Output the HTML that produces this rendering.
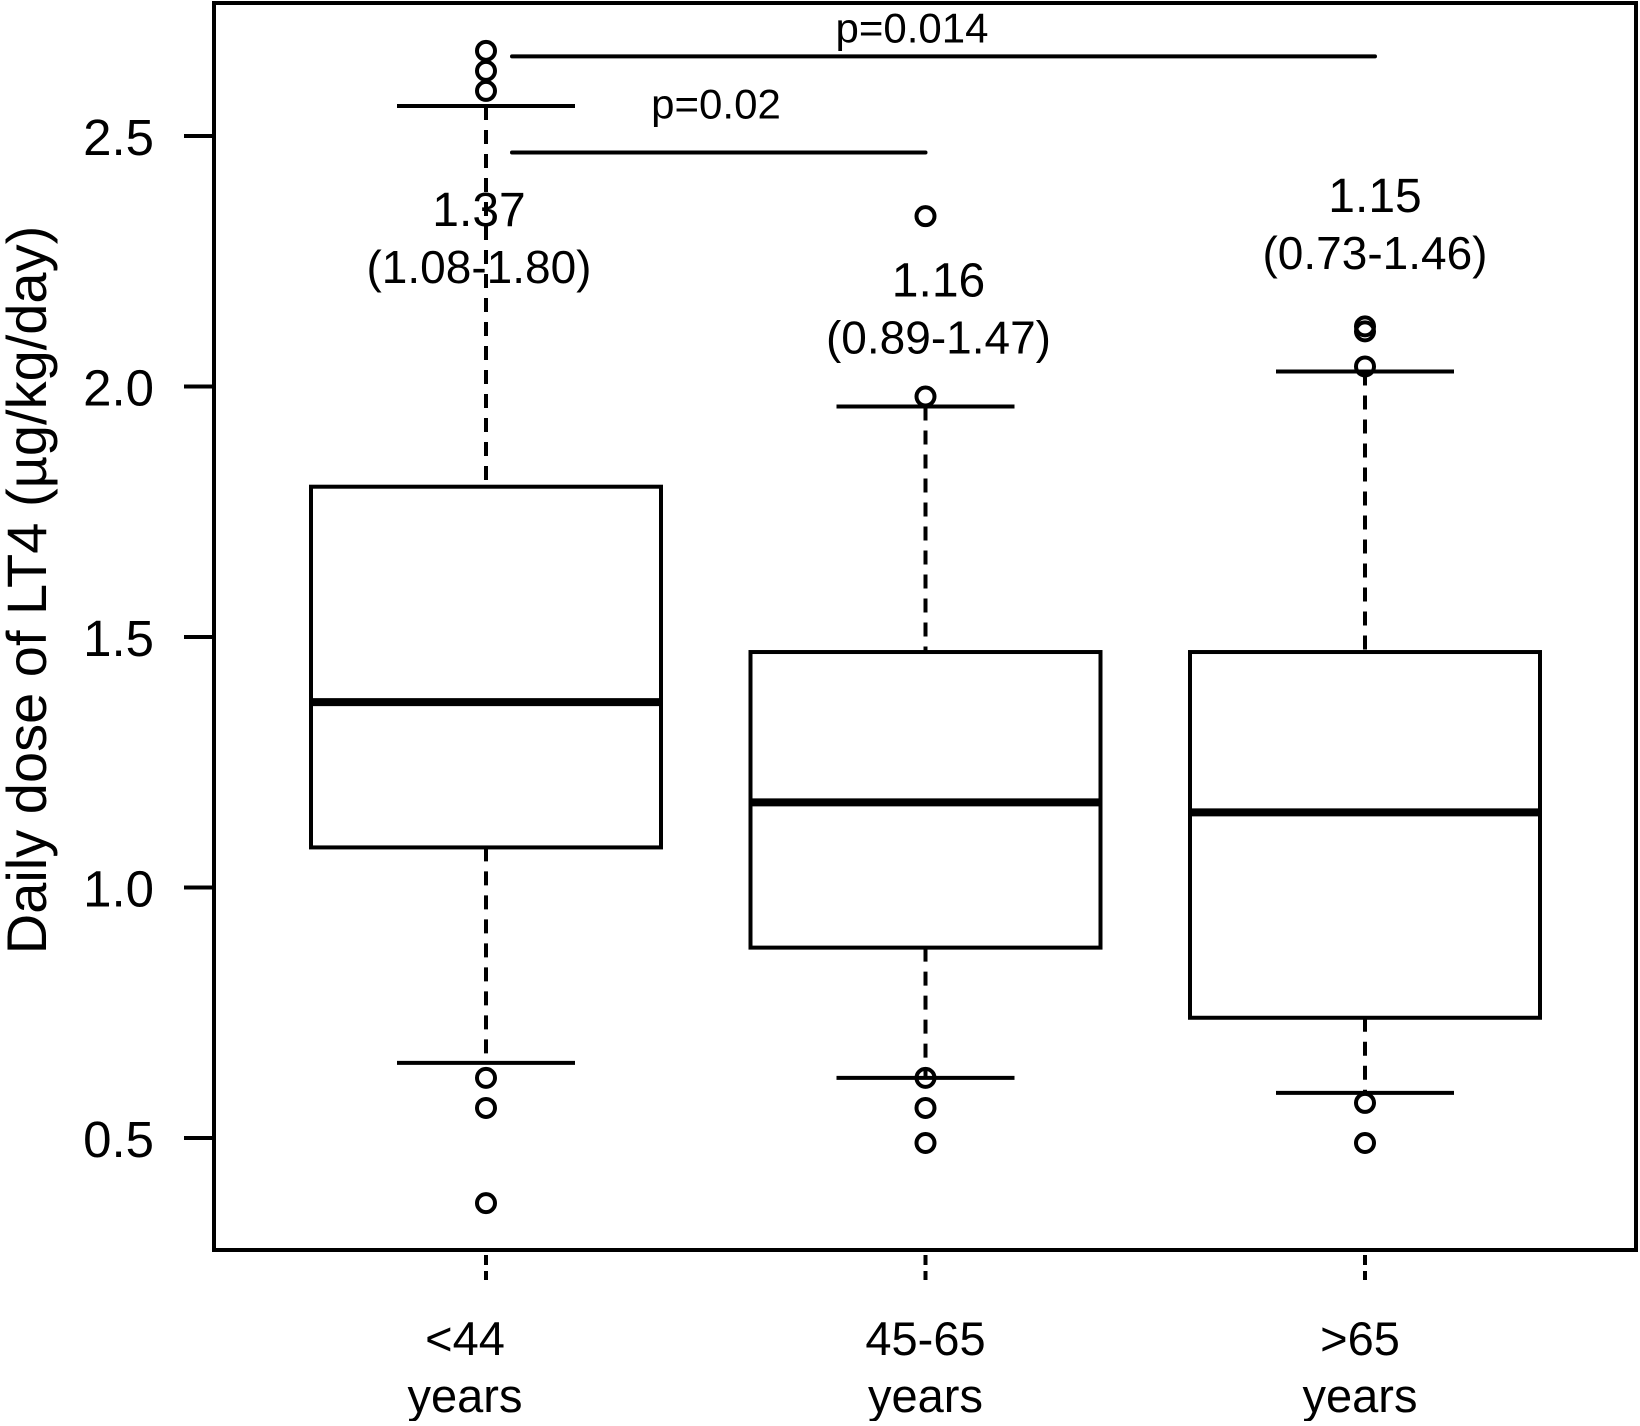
<!DOCTYPE html>
<html><head><meta charset="utf-8"><style>
html,body{margin:0;padding:0;background:#fff;}
svg text{font-family:"Liberation Sans",Arial,sans-serif;fill:#000;}
</style></head><body>
<svg id="chart" width="1640" height="1421" viewBox="0 0 1640 1421">
<rect x="214" y="3" width="1422" height="1247" fill="none" stroke="#000" stroke-width="4"/>
<text x="46" y="590" font-size="56" text-anchor="middle" transform="rotate(-90 46 590)">Daily dose of LT4 (µg/kg/day)</text>
<g id="g"></g>
</svg>
<script>
const categories = ["<44", "45-65", ">65"];
const q1 = [1.08, 0.88, 0.74];
const medians = [1.37, 1.17, 1.15];
const q3 = [1.80, 1.47, 1.47];
const whiskLow = [0.65, 0.62, 0.59];
const whiskHigh = [2.56, 1.96, 2.03];
const outliers = [[0.62, 0.56, 0.37, 2.59, 2.63, 2.67], [0.62, 0.56, 0.49, 1.98, 2.34], [0.57, 0.49, 2.04, 2.11, 2.12]];
const annoMedian = ["1.37", "1.16", "1.15"];
const annoIqr = ["(1.08-1.80)", "(0.89-1.47)", "(0.73-1.46)"];
const annoY = [2.32, 2.18, 2.348];
const yTicks = [0.5, 1.0, 1.5, 2.0, 2.5];
const yTickLabels = ["0.5", "1.0", "1.5", "2.0", "2.5"];
const pLabels = ["p=0.014", "p=0.02"];
const pFrom = [0, 0];
const pTo = [2, 1];
const pLevel = [2.659, 2.467];

const NS = "http://www.w3.org/2000/svg";
const g = document.getElementById('g');
function y(v){ return 136 + (2.5 - v) * 501; }
function x(i){ return 486 + i * 439.5; }
const halfW = 175, capHalf = 89;
const annoDx = [-7, 13, 10];
const labelDx = [-21, 0, -5];
const pTextX = [912, 716];
function el(tag, attrs, parent){ const e=document.createElementNS(NS,tag); for(const k in attrs) e.setAttribute(k,attrs[k]); (parent||g).appendChild(e); return e; }

yTicks.forEach((t,i)=>{
  const l = el('line',{x1:184,x2:214,y1:y(t),y2:y(t),stroke:'#000','stroke-width':4});
  
  
  const tx = el('text',{x:154,y:y(t)+19,'font-size':51,'text-anchor':'end'});
  tx.textContent = yTickLabels[i];
  
  
});

categories.forEach((c,i)=>{
  const cx = x(i);
  const grp = el('g',{});
  
  
  el('line',{x1:cx,x2:cx,y1:y(whiskHigh[i]),y2:y(q3[i]),stroke:'#000','stroke-width':4,'stroke-dasharray':'14 10'},grp);
  el('line',{x1:cx,x2:cx,y1:y(q1[i]),y2:y(whiskLow[i]),stroke:'#000','stroke-width':4,'stroke-dasharray':'14 10'},grp);
  el('line',{x1:cx-capHalf,x2:cx+capHalf,y1:y(whiskHigh[i]),y2:y(whiskHigh[i]),stroke:'#000','stroke-width':4},grp);
  el('line',{x1:cx-capHalf,x2:cx+capHalf,y1:y(whiskLow[i]),y2:y(whiskLow[i]),stroke:'#000','stroke-width':4},grp);
  const b = el('rect',{x:cx-halfW,y:y(q3[i]),width:2*halfW,height:y(q1[i])-y(q3[i]),fill:'#fff',stroke:'#000','stroke-width':4},grp);
  
  
  const m = el('line',{x1:cx-halfW,x2:cx+halfW,y1:y(medians[i]),y2:y(medians[i]),stroke:'#000','stroke-width':8},grp);
  
  
  outliers[i].forEach(v=>{
    const o = el('circle',{cx:cx,cy:y(v),r:9,fill:'none',stroke:'#000','stroke-width':4},grp);
    
    
  });
  el('line',{x1:cx,x2:cx,y1:1255,y2:1280,stroke:'#000','stroke-width':4,'stroke-dasharray':'10 6'},grp);
  const t1 = el('text',{x:cx+labelDx[i],y:1355,'font-size':47,'text-anchor':'middle'});
  t1.textContent = c;
  
  
  const t2 = el('text',{x:cx+labelDx[i],y:1412,'font-size':47,'text-anchor':'middle'});
  t2.textContent = 'years';
  
  
  const a1 = el('text',{x:cx+annoDx[i],y:y(annoY[i]),'font-size':48,'text-anchor':'middle'});
  a1.textContent = annoMedian[i];
  
  
  const a2 = el('text',{x:cx+annoDx[i],y:y(annoY[i])+57,'font-size':46,'text-anchor':'middle'});
  a2.textContent = annoIqr[i];
  
  
});

pLabels.forEach((p,i)=>{
  const x1 = x(pFrom[i])+26, x2 = x(pTo[i])+(pTo[i]===2?10:0);
  const l = el('line',{x1:x1,x2:x2,y1:y(pLevel[i]),y2:y(pLevel[i]),stroke:'#000','stroke-width':4,'stroke-linecap':'round'});
  
  
  const t = el('text',{x:pTextX[i],y:y(pLevel[i])-(i===0?14:34),'font-size':42,'text-anchor':'middle'});
  t.textContent = p;
  
  
});
</script>
</body></html>
